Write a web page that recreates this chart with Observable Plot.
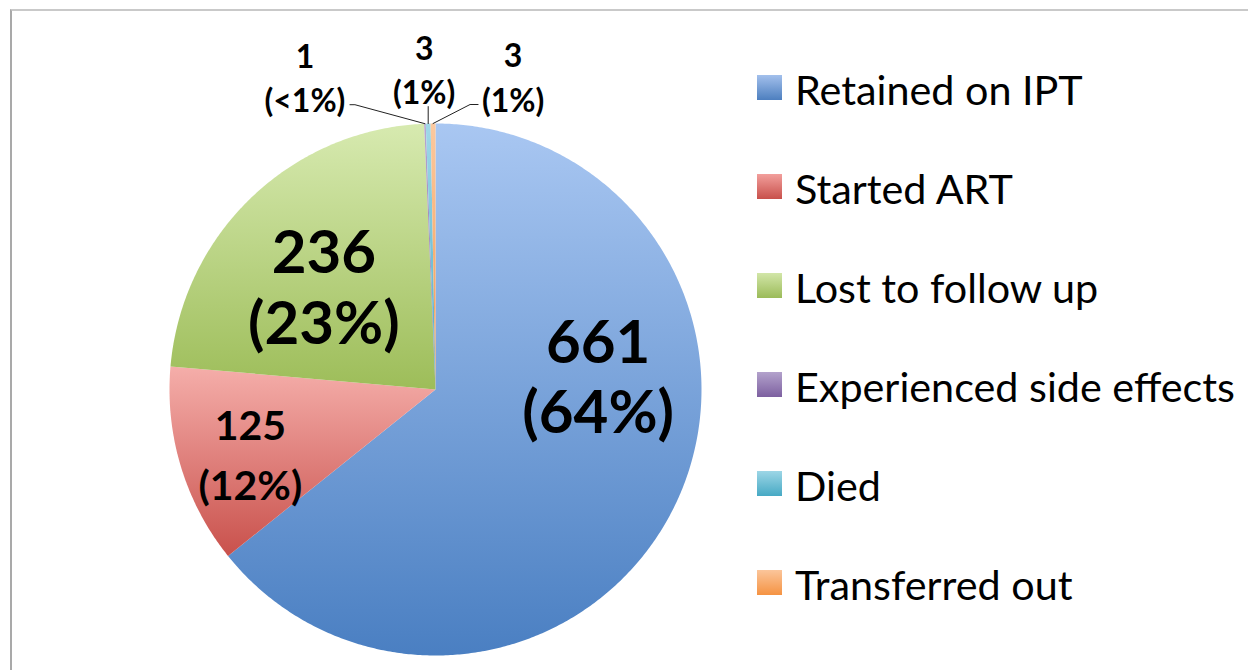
<!DOCTYPE html>
<html>
<head>
<meta charset="utf-8">
<script src="https://cdn.jsdelivr.net/npm/d3@7"></script>
<script src="https://cdn.jsdelivr.net/npm/@observablehq/plot@0.6"></script>
<style>
  html, body { margin: 0; padding: 0; background: #fff; }
  #wrap { position: relative; width: 1248px; height: 670px; overflow: hidden; font-family: Lato, "Open Sans", sans-serif; }
  #frame { position: absolute; left: 10px; top: 9px; width: 1400px; height: 800px;
           border-top: 2px solid #c9c9c9; border-left: 2px solid #a9a9a9; }
  #chart { position: absolute; left: 0; top: 0; }
  .lg-sw { position: absolute; width: 25px; height: 25px; }
  .lg-tx { position: absolute; font-size: 41.3px; line-height: 49.5px; color: #000; white-space: nowrap; }
</style>
</head>
<body>
<div id="wrap"><div id="frame"></div><div id="chart"></div><div id="legend"></div></div>
<script>
// ---------- data ----------
const categories = ["Retained on IPT", "Started ART", "Lost to follow up", "Experienced side effects", "Died", "Transferred out"];
const counts = [661, 125, 236, 1, 3, 3];
const percentLabels = ["64%", "12%", "23%", "<1%", "1%", "1%"];

// ---------- palette (styles) ----------
const sliceTop    = ["#a9c7f2", "#f5aeaa", "#d7eab0", "#b7a6d0", "#a0d8e8", "#fbc9a0"];
const sliceBottom = ["#4a7fc2", "#c9514c", "#9dbd59", "#7f62a2", "#4aabc6", "#f79646"];

// ---------- layout ----------
const W = 1248, H = 670, CX = 435, CY = 389, R = 266;
// label placement: radius fraction + pixel nudges (layout only)
const labelRadius = [0.62, 0.70, 0.58];
const labelNudge = [[14, -85], [-7, 7], [-5, 8]];
// outside labels for tiny slices: leader path offsets & text offsets in px from the slice edge
const leaderPath = [[[-70, -19], [-75, -19]], [[0, -17]], [[37, -19], [45, -19]]];
const outsideText = [[-120, -48], [-4, -56], [80, -48]];

const table = categories.map((c, i) => ({i, category: c, count: counts[i], pct: percentLabels[i]}));
const arcs = d3.pie().sort(null).value(d => d.count)(table);

// slice polygons in unit-circle data space
const slicePts = [];
arcs.forEach((p, i) => {
  const n = Math.max(2, Math.ceil((p.endAngle - p.startAngle) / (Math.PI / 360)));
  slicePts.push({k: i, x: 0, y: 0});
  for (let j = 0; j <= n; j++) {
    const a = p.startAngle + (p.endAngle - p.startAngle) * j / n;
    slicePts.push({k: i, x: Math.sin(a), y: Math.cos(a)});
  }
  slicePts.push({k: i, x: 0, y: 0});
});

const mid = p => (p.startAngle + p.endAngle) / 2;
const labelText = d => `${d.count}\n(${d.pct})`;

const inside = arcs.slice(0, 3).map((p, i) => {
  const m = mid(p), rf = labelRadius[i];
  return {i, text: labelText(p.data),
    x: rf * Math.sin(m) + labelNudge[i][0] / R,
    y: rf * Math.cos(m) - labelNudge[i][1] / R};
});

const outside = [], leaders = [];
arcs.slice(3).forEach((p, j) => {
  const m = mid(p), ex = Math.sin(m), ey = Math.cos(m);
  leaders.push({k: j, x: ex, y: ey});
  leaderPath[j].forEach(o => leaders.push({k: j, x: ex + o[0] / R, y: ey - o[1] / R}));
  outside.push({text: labelText(p.data), x: ex + outsideText[j][0] / R, y: ey - outsideText[j][1] / R});
});

const defs = () => {
  const d = d3.create("svg:defs");
  sliceTop.forEach((c, i) => {
    const g = d.append("linearGradient").attr("id", "grad-" + i)
      .attr("x1", 0).attr("y1", 0).attr("x2", 0).attr("y2", 1);
    g.append("stop").attr("offset", "0%").attr("stop-color", c);
    g.append("stop").attr("offset", "100%").attr("stop-color", sliceBottom[i]);
  });
  return d.node();
};

const font = "Lato, 'Open Sans', sans-serif";
const chart = Plot.plot({
  width: W, height: H,
  margin: 0,
  x: {domain: [-CX / R, (W - CX) / R], axis: null},
  y: {domain: [-(H - CY) / R, CY / R], axis: null},
  color: {type: "identity"},
  style: {background: "transparent", overflow: "visible"},
  marks: [
    defs,
    Plot.line(slicePts, {x: "x", y: "y", z: "k", fill: d => `url(#grad-${d.k})`, stroke: "none", curve: "linear"}),
    Plot.line(leaders, {x: "x", y: "y", z: "k", stroke: "#222", strokeWidth: 1, curve: "linear"}),
    Plot.text(inside.filter(d => d.i !== 1), {x: "x", y: "y", text: "text", fontSize: 60, fontWeight: "bold", lineHeight: 1.17, fontFamily: font, fill: "#000"}),
    Plot.text(inside.filter(d => d.i === 1), {x: "x", y: "y", text: "text", fontSize: 41, fontWeight: "bold", lineHeight: 1.46, fontFamily: font, fill: "#000"}),
    Plot.text(outside, {x: "x", y: "y", text: "text", fontSize: 32, fontWeight: "bold", lineHeight: 1.4, fontFamily: font, fill: "#000"})
  ]
});
document.getElementById("chart").appendChild(chart);

// ---------- legend ----------
const legendTop = ["#a3c0ec", "#f29f9c", "#d2e6a8", "#b3a2cc", "#9dd6e6", "#fbc59a"];
const legendBottom = ["#4d7fbf", "#c8504b", "#9bbb59", "#7d60a0", "#46a9c4", "#f59343"];
const lg = d3.select("#legend");
categories.forEach((c, i) => {
  const rowY = 75 + i * 99;
  lg.append("div").attr("class", "lg-sw")
    .style("left", "757px").style("top", rowY + "px")
    .style("background", `linear-gradient(${legendTop[i]}, ${legendBottom[i]})`);
  lg.append("div").attr("class", "lg-tx")
    .style("left", "795px").style("top", (rowY + 16 - 26) + "px")
    .text(c);
});
</script>
</body>
</html>
